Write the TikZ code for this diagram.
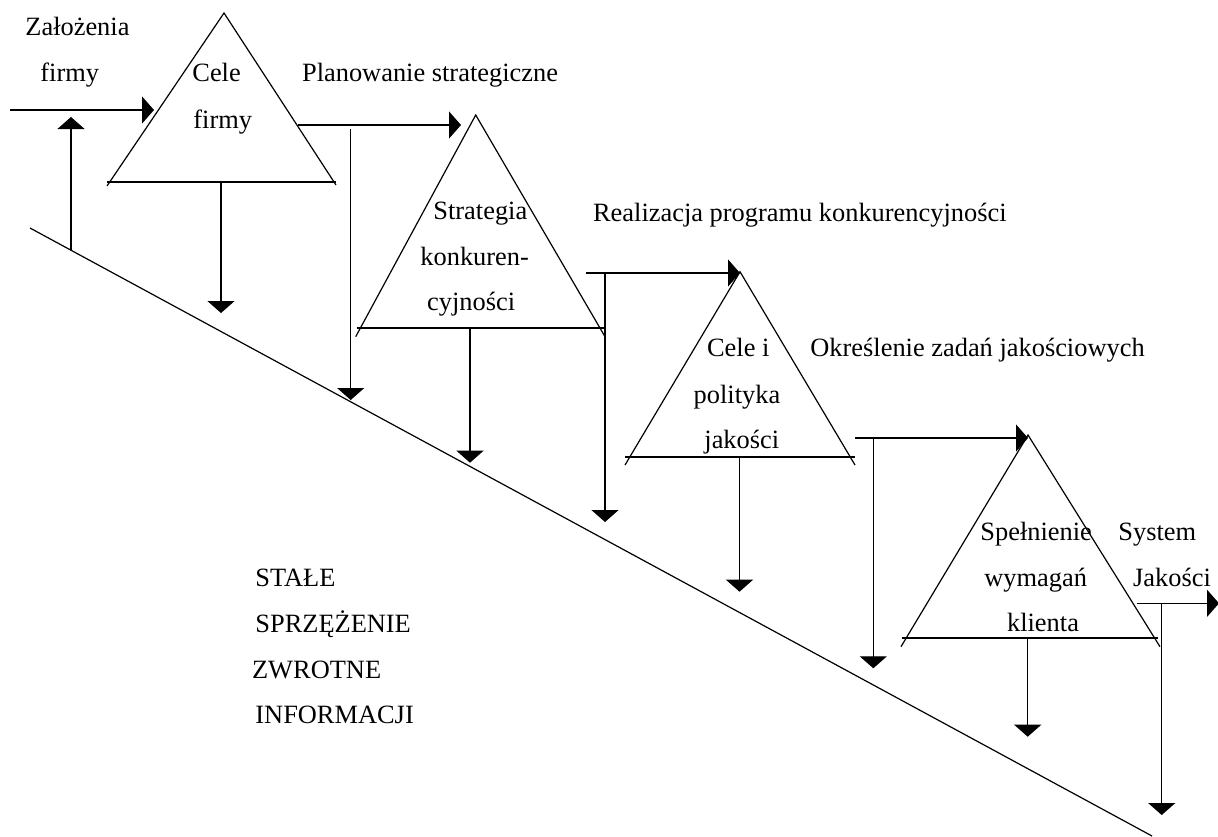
\documentclass[tikz,border=0pt]{standalone}
\usepackage{fontspec}
\setmainfont{Liberation Serif}
\usetikzlibrary{arrows.meta}
\begin{document}
\begin{tikzpicture}[x=0.5pt,y=-0.5pt,
  line/.style={line width=0.6pt, draw=black},
  flow/.style={line, -{Triangle[width=13.5pt,length=6pt]}},
  lbl/.style={anchor=base west, inner sep=0pt, font=\fontsize{13.2}{16}\selectfont},
  ]
\useasboundingbox (0,0) rectangle (1218,836);

% feedback slope
\coordinate (s0) at (30,228);
\coordinate (s1) at (1152,836);
\draw[line] (s0) -- (s1);

% triangle 1: Cele firmy
\coordinate (t1a) at (224,13);
\coordinate (t1l) at (107,186);
\coordinate (t1r) at (336,185);
\coordinate (t1bl) at (107,182);
\coordinate (t1br) at (336,182);
\draw[line] (t1l) -- (t1a) -- (t1r);
\draw[line] (t1bl) -- (t1br);

% triangle 2: Strategia konkurencyjnosci
\coordinate (t2a) at (475.7,115);
\coordinate (t2l) at (355.7,336.7);
\coordinate (t2r) at (605,336.7);
\coordinate (t2bl) at (356.7,328);
\coordinate (t2br) at (605,328);
\draw[line] (t2l) -- (t2a) -- (t2r);
\draw[line] (t2bl) -- (t2br);

% triangle 3: Cele i polityka jakosci
\coordinate (t3a) at (740,271.7);
\coordinate (t3l) at (625,465);
\coordinate (t3r) at (855,465);
\coordinate (t3bl) at (625,457);
\coordinate (t3br) at (855,457);
\draw[line] (t3l) -- (t3a) -- (t3r);
\draw[line] (t3bl) -- (t3br);

% triangle 4: Spelnienie wymagan klienta
\coordinate (t4a) at (1028,435);
\coordinate (t4l) at (901,646.7);
\coordinate (t4r) at (1160,646.7);
\coordinate (t4bl) at (901.7,638);
\coordinate (t4br) at (1158,638);
\draw[line] (t4l) -- (t4a) -- (t4r);
\draw[line] (t4bl) -- (t4br);

% connector ends
\coordinate (in0) at (10,110);     \coordinate (in1) at (154,110);
\coordinate (u0) at (71,250);      \coordinate (u1) at (71,117);
\coordinate (d1a) at (221,182);    \coordinate (d1b) at (221,313);
\coordinate (p0) at (298,125);     \coordinate (p1) at (461,125);
\coordinate (d2a) at (350.7,129);  \coordinate (d2b) at (350.7,400);
\coordinate (d3a) at (470,328);    \coordinate (d3b) at (470,462.7);
\coordinate (r0) at (586,273);     \coordinate (r1) at (740,273);
\coordinate (d4a) at (605,273);    \coordinate (d4b) at (605,522);
\coordinate (d5a) at (739.5,457);  \coordinate (d5b) at (739.5,591.7);
\coordinate (o0) at (855,438);     \coordinate (o1) at (1028,438);
\coordinate (d6a) at (873.3,438);  \coordinate (d6b) at (873.3,668.3);
\coordinate (d7a) at (1027.7,638); \coordinate (d7b) at (1027.7,736.7);
\coordinate (q0) at (1136.7,603.3);\coordinate (q1) at (1219,603.3);
\coordinate (d8a) at (1161.7,603.3);\coordinate (d8b) at (1161.7,815);

\draw[flow] (in0) -- (in1);
\draw[flow] (u0) -- (u1);
\draw[flow] (d1a) -- (d1b);
\draw[flow] (p0) -- (p1);
\draw[flow] (d2a) -- (d2b);
\draw[flow] (d3a) -- (d3b);
\draw[flow] (r0) -- (r1);
\draw[flow] (d4a) -- (d4b);
\draw[flow] (d5a) -- (d5b);
\draw[flow] (o0) -- (o1);
\draw[flow] (d6a) -- (d6b);
\draw[flow] (d7a) -- (d7b);
\draw[flow] (q0) -- (q1);
\draw[flow] (d8a) -- (d8b);

% labels
\node[lbl] (za) at (25,35) {Założenia};
\node[lbl] (zb) at (40,81.7) {firmy};
\node[lbl] (c1a) at (192,81) {Cele};
\node[lbl] (c1b) at (193,128) {firmy};
\node[lbl] (pl) at (301.7,81.7) {Planowanie strategiczne};
\node[lbl] (s2a) at (433,219) {Strategia};
\node[lbl] (s2b) at (420,265) {konkuren-};
\node[lbl] (s2c) at (426.7,310) {cyjności};
\node[lbl] (re) at (592.7,221) {Realizacja programu konkurencyjności};
\node[lbl] (c3a) at (706.7,356.7) {Cele i};
\node[lbl] (c3b) at (693.3,403) {polityka};
\node[lbl] (c3c) at (704,448) {jakości};
\node[lbl] (ok) at (810,356.7) {Określenie zadań jakościowych};
\node[lbl] (s4a) at (980,540) {Spełnienie};
\node[lbl] (s4b) at (984,586.7) {wymagań};
\node[lbl] (s4c) at (1006.7,631.7) {klienta};
\node[lbl] (sya) at (1118,540) {System};
\node[lbl] (syb) at (1132.7,586.7) {Jakości};
\node[lbl] (fa) at (255,586.7) {STAŁE};
\node[lbl] (fb) at (255,632) {SPRZĘŻENIE};
\node[lbl] (fc) at (251.7,678) {ZWROTNE};
\node[lbl] (fd) at (255,723) {INFORMACJI};
\end{tikzpicture}
\end{document}
